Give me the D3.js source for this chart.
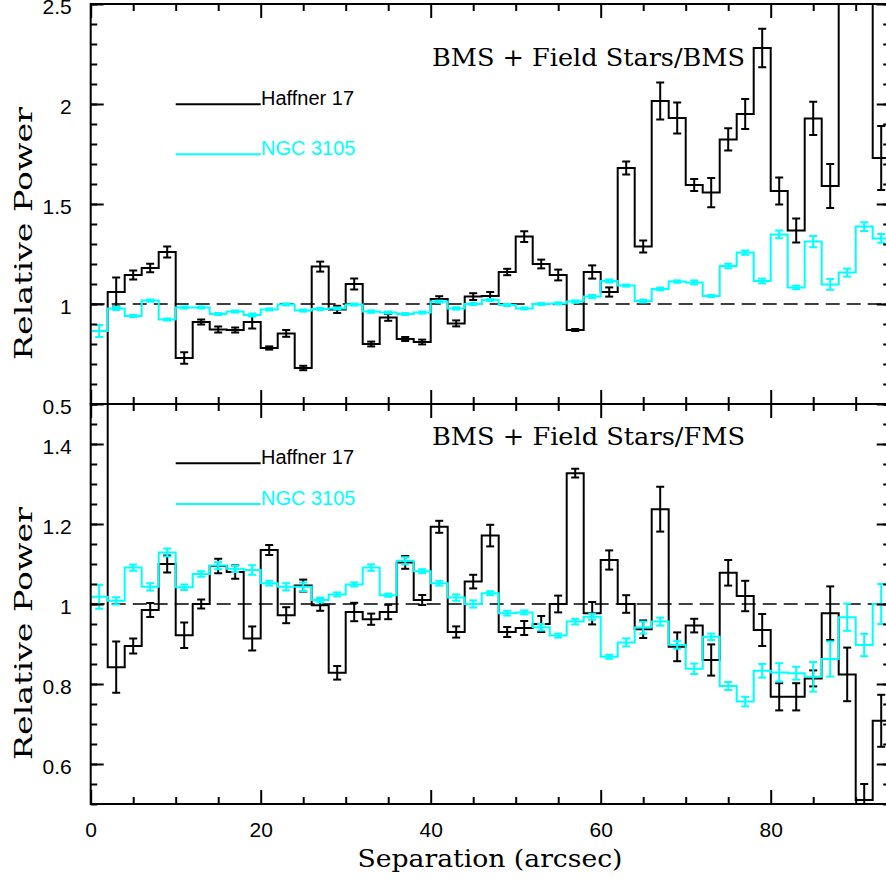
<!DOCTYPE html>
<html>
<head>
<meta charset="utf-8">
<script src="https://cdn.jsdelivr.net/npm/d3@7"></script>
<style>
  body { margin: 0; background: #fff; }
  svg { display: block; }
  .tick text { font-family: "Liberation Sans", Arial, sans-serif; font-size: 21px; fill: #000; }
  .serif { font-family: "DejaVu Serif", serif; font-size: 25px; fill: #000; }
  .legend { font-family: "Liberation Sans", Arial, sans-serif; font-size: 20px; }
</style>
</head>
<body>
<svg width="886" height="881"></svg>
<script>
// bin centres (arcsec), bins are 2 arcsec wide
var binCenters = [1,3,5,7,9,11,13,15,17,19,21,23,25,27,29,31,33,35,37,39,41,43,45,47,
  49,51,53,55,57,59,61,63,65,67,69,71,73,75,77,79,81,83,85,87,89,91,93];

// top panel: BMS + Field Stars / BMS
var topHaffner = [0.30,1.06,1.145,1.18,1.26,0.73,0.91,0.873,0.87,0.91,0.78,0.853,0.68,1.187,0.973,1.10,
  0.80,0.933,0.825,0.81,1.025,0.903,1.037,1.04,1.16,1.337,1.20,1.145,0.87,1.16,1.06,1.68,
  1.287,2.015,1.93,1.595,1.557,1.823,1.95,2.28,1.565,1.367,1.928,1.59,2.70,2.80,1.73];
var topHaffnerErr = [0.05,0.0725,0.023,0.021,0.027,0.029,0.013,0.015,0.013,0.033,0.008,0.017,0.011,0.025,0.018,0.0275,
  0.012,0.017,0.01,0.012,0.014,0.015,0.017,0.02,0.016,0.027,0.022,0.027,0.005,0.033,0.023,0.033,
  0.03,0.092,0.078,0.03,0.073,0.056,0.075,0.096,0.068,0.06,0.083,0.11,0.15,0.15,0.16];
var topNgc = [0.865,0.978,0.94,1.017,0.923,0.983,0.983,0.95,0.962,0.945,0.973,0.998,0.967,0.975,0.978,0.997,
  0.962,0.957,0.95,0.957,1.012,0.978,1.0,1.02,0.995,0.978,1.0,1.003,1.012,1.037,1.115,1.092,
  1.015,1.075,1.112,1.108,1.04,1.19,1.257,1.115,1.348,1.083,1.312,1.098,1.157,1.387,1.328];
var topNgcErr = [0.03,0.008,0.005,0.006,0.005,0.005,0.005,0.005,0.005,0.008,0.005,0.005,0.005,0.005,0.005,0.005,
  0.006,0.005,0.005,0.005,0.005,0.006,0.005,0.005,0.005,0.005,0.005,0.005,0.006,0.008,0.008,0.005,
  0.007,0.007,0.006,0.01,0.005,0.011,0.011,0.012,0.019,0.009,0.028,0.027,0.02,0.022,0.022];

// bottom panel: BMS + Field Stars / FMS
var botHaffner = [1.70,0.842,0.895,0.985,1.10,0.922,1.0,1.095,1.08,0.914,1.135,0.972,1.046,0.997,0.828,0.98,
  0.962,0.98,1.104,1.01,1.193,0.93,1.056,1.171,0.93,0.94,0.95,1.0,1.327,0.977,1.11,1.0,
  0.937,1.237,0.893,0.946,0.86,1.078,1.02,0.935,0.768,0.768,0.814,0.977,0.824,0.51,0.708];
var botHaffnerErr = [0.05,0.064,0.019,0.0175,0.021,0.032,0.011,0.018,0.017,0.03,0.0125,0.02,0.015,0.014,0.017,0.023,
  0.014,0.018,0.016,0.0125,0.015,0.014,0.017,0.027,0.0125,0.0175,0.02,0.021,0.011,0.028,0.024,0.022,
  0.022,0.056,0.036,0.017,0.039,0.032,0.038,0.04,0.034,0.034,0.02,0.067,0.067,0.04,0.065];
var botNgc = [1.018,1.008,1.091,1.043,1.129,1.042,1.075,1.096,1.088,1.085,1.052,1.043,1.043,1.01,1.024,1.049,
  1.091,1.022,1.108,1.082,1.052,1.016,1.0,1.027,0.977,0.979,0.942,0.921,0.956,0.968,0.868,0.904,
  0.941,0.956,0.898,0.838,0.918,0.795,0.756,0.833,0.829,0.827,0.818,0.8625,0.967,0.8975,1.0];
var botNgcErr = [0.03,0.009,0.008,0.009,0.01,0.007,0.007,0.009,0.008,0.012,0.006,0.009,0.011,0.006,0.005,0.005,
  0.008,0.004,0.009,0.005,0.006,0.008,0.009,0.005,0.006,0.005,0.008,0.005,0.007,0.0075,0.005,0.01,
  0.015,0.01,0.01,0.013,0.008,0.01,0.012,0.017,0.023,0.016,0.037,0.044,0.034,0.028,0.05];

var seriesNames = ["Haffner 17", "NGC 3105"];
var seriesColors = ["#000000", "#00ffff"];
var panelTitles = ["BMS + Field Stars/BMS", "BMS + Field Stars/FMS"];
var topTicks = [0.5, 1, 1.5, 2, 2.5];
var botTicks = [0.6, 0.8, 1, 1.2, 1.4];
var xTicks = [0, 20, 40, 60, 80];

var svg = d3.select("svg");
// panel edges in pixels (the right edge falls just outside the picture)
var left = 90.7, right = 889.7, plotTop = 4, mid = 404, bottom = 804;

var x = d3.scaleLinear().domain([0, 94]).range([left, right]);
var yTop = d3.scaleLinear().domain([0.5, 2.5]).range([mid, plotTop]);
var yBot = d3.scaleLinear().domain([0.5, 1.5]).range([bottom, mid]);

var xMinor = d3.range(0, 95, 5).filter(function(d) { return d % 20 !== 0; });

function tidy(a) {
  a.select(".domain").remove();
  a.selectAll("line").attr("stroke-width", 2);
}

function drawPanel(id, y, majors, minorStep, y0, y1, data, title, titleY, legendY, labelY) {
  var g = svg.append("g");

  g.append("clipPath").attr("id", id)
    .append("rect").attr("x", left).attr("y", y1).attr("width", right - left).attr("height", y0 - y1);

  var plot = g.append("g").attr("clip-path", "url(#" + id + ")");

  // dashed reference line at 1
  plot.append("line")
    .attr("x1", left).attr("x2", right)
    .attr("y1", y(1)).attr("y2", y(1))
    .attr("stroke", "#000").attr("stroke-width", 1.6)
    .attr("stroke-dasharray", "14,7");

  var line = d3.line()
    .x(function(d) { return x(d[0]); })
    .y(function(d) { return y(d[1]); });

  data.forEach(function(s, k) {
    var pts = [];
    binCenters.forEach(function(c, i) { pts.push([c - 1, s.v[i]], [c + 1, s.v[i]]); });
    // histogram steps
    plot.append("path").attr("d", line(pts))
      .attr("fill", "none").attr("stroke", seriesColors[k]).attr("stroke-width", 2);

    // error bars with caps
    var eb = plot.append("g").attr("stroke", seriesColors[k]).attr("stroke-width", 2);
    binCenters.forEach(function(c, i) {
      var lo = y(s.v[i] - s.e[i]), hi = y(s.v[i] + s.e[i]), cx = x(c);
      eb.append("line").attr("x1", cx).attr("x2", cx).attr("y1", lo).attr("y2", hi);
      eb.append("line").attr("x1", cx - 4).attr("x2", cx + 4).attr("y1", lo).attr("y2", lo);
      eb.append("line").attr("x1", cx - 4).attr("x2", cx + 4).attr("y1", hi).attr("y2", hi);
    });
  });

  // frame
  g.append("rect").attr("x", left).attr("y", y1).attr("width", right - left).attr("height", y0 - y1)
    .attr("fill", "none").attr("stroke", "#000").attr("stroke-width", 2);

  var yMinor = d3.range(y.domain()[0], y.domain()[1] + 1e-9, minorStep);

  g.append("g").attr("transform", "translate(" + left + ",0)")
    .call(d3.axisLeft(y).tickValues(majors).tickSize(-13).tickPadding(19)
      .tickFormat(function(d) { return String(d); }))
    .call(tidy)
    .call(function(a) { a.selectAll("text").attr("dy", "0.45em"); });
  g.append("g").attr("transform", "translate(" + left + ",0)")
    .call(d3.axisLeft(y).tickValues(yMinor).tickSize(-6.5).tickFormat(""))
    .call(tidy);
  g.append("g").attr("transform", "translate(" + right + ",0)")
    .call(d3.axisRight(y).tickValues(majors).tickSize(-13).tickFormat(""))
    .call(tidy);
  g.append("g").attr("transform", "translate(" + right + ",0)")
    .call(d3.axisRight(y).tickValues(yMinor).tickSize(-6.5).tickFormat(""))
    .call(tidy);

  // x ticks on top and bottom edge of the panel, pointing inward
  [[y0, d3.axisBottom], [y1, d3.axisTop]].forEach(function(t) {
    g.append("g").attr("transform", "translate(0," + t[0] + ")")
      .call(t[1](x).tickValues(xTicks).tickSize(-14).tickFormat(""))
      .call(tidy);
    g.append("g").attr("transform", "translate(0," + t[0] + ")")
      .call(t[1](x).tickValues(xMinor).tickSize(-7).tickFormat(""))
      .call(tidy);
  });

  // panel title
  g.append("text").attr("class", "serif")
    .attr("x", 432).attr("y", titleY)
    .attr("textLength", 313).attr("lengthAdjust", "spacingAndGlyphs")
    .text(title);

  // legend
  data.forEach(function(s, k) {
    g.append("line")
      .attr("x1", 175.7).attr("x2", 260.7)
      .attr("y1", legendY[k]).attr("y2", legendY[k])
      .attr("stroke", seriesColors[k]).attr("stroke-width", 2);
    g.append("text").attr("class", "legend")
      .attr("x", 261).attr("y", legendY[k] + 0.5)
      .attr("fill", seriesColors[k])
      .text(seriesNames[k]);
  });

  // y axis title
  g.append("text").attr("class", "serif")
    .attr("transform", "translate(31.7," + labelY + ") rotate(-90)")
    .attr("text-anchor", "middle")
    .attr("textLength", 253).attr("lengthAdjust", "spacingAndGlyphs")
    .text("Relative Power");
}

drawPanel("clipTop", yTop, topTicks, 0.1, mid, plotTop,
  [{v: topHaffner, e: topHaffnerErr}, {v: topNgc, e: topNgcErr}],
  panelTitles[0], 65.7, [104.3, 154.3], 233.5);

drawPanel("clipBot", yBot, botTicks, 0.05, bottom, mid,
  [{v: botHaffner, e: botHaffnerErr}, {v: botNgc, e: botNgcErr}],
  panelTitles[1], 445, [463.3, 504], 633.5);

// x tick labels under the lower panel
svg.append("g").attr("transform", "translate(0," + bottom + ")")
  .call(d3.axisBottom(x).tickValues(xTicks).tickSize(0).tickPadding(0).tickFormat(d3.format("d")))
  .call(function(a) { a.select(".domain").remove(); a.selectAll("text").attr("dy", null).attr("y", 33); });

svg.append("text").attr("class", "serif")
  .attr("x", 490).attr("y", 867)
  .attr("text-anchor", "middle")
  .attr("textLength", 265).attr("lengthAdjust", "spacingAndGlyphs")
  .text("Separation (arcsec)");
</script>
</body>
</html>
